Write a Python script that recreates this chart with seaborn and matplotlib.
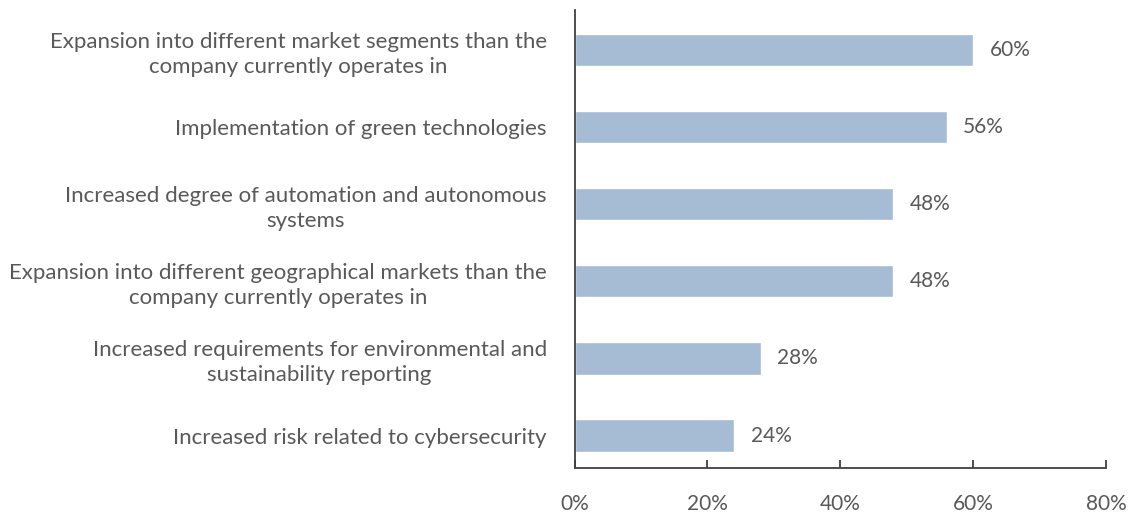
import matplotlib
matplotlib.use("Agg")
import matplotlib.pyplot as plt
import seaborn as sns
import pandas as pd

categories = [
    "Expansion into different market segments than the\ncompany currently operates in",
    "Implementation of green technologies",
    "Increased degree of automation and autonomous\nsystems",
    "Expansion into different geographical markets than the\ncompany currently operates in",
    "Increased requirements for environmental and\nsustainability reporting",
    "Increased risk related to cybersecurity",
]
values = [60, 56, 48, 48, 28, 24]
x_ticks = [0, 20, 40, 60, 80]
x_tick_labels = ["0%", "20%", "40%", "60%", "80%"]

sns.set_theme(style="white")
plt.rcParams["font.family"] = ["Lato", "DejaVu Sans"]

text_color = "#595959"
bar_color = "#a6bbd4"

df = pd.DataFrame({"category": categories, "value": values})

fig = plt.figure(figsize=(11.31, 5.18), dpi=100)
ax = fig.add_axes([0.508, 0.0965, 0.47, 0.885])

sns.barplot(data=df, x="value", y="category", color=bar_color, width=0.42,
            saturation=1, ax=ax)

for patch, v in zip(ax.patches, values):
    y = patch.get_y() + patch.get_height() / 2
    ax.text(v + 2.5, y, f"{v}%", va="center", ha="left",
            fontsize=15, color=text_color)

ax.set_xlim(0, 80)
ax.set_ylim(5.42, -0.52)
ax.set_xticks(x_ticks)
ax.set_xticklabels(x_tick_labels)
ax.set_xlabel("")
ax.set_ylabel("")

for side in ["top", "right"]:
    ax.spines[side].set_visible(False)
for side in ["left", "bottom"]:
    ax.spines[side].set_color("#404040")
    ax.spines[side].set_linewidth(1.3)

ax.tick_params(axis="x", direction="in", length=6, width=1.3, color="#404040",
               pad=19, labelsize=15, labelcolor=text_color, bottom=True)
ax.tick_params(axis="y", length=0, pad=20, labelsize=16, labelcolor=text_color)
for lbl in ax.get_yticklabels():
    lbl.set_multialignment("center")
    lbl.set_linespacing(1.3)

fig.savefig("out.png", dpi=100)
